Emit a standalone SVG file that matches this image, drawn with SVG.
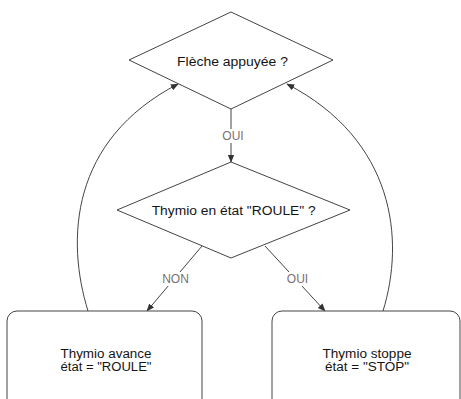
<svg xmlns="http://www.w3.org/2000/svg" width="461" height="399" viewBox="0 0 461 399">
  <style>
    .shape { fill: #ffffff; stroke: #444444; stroke-width: 1; }
    .edge { fill: none; stroke: #444444; stroke-width: 1; }
    .txt { font-family: "Liberation Sans", Arial, sans-serif; font-size: 12px; fill: #151515; text-anchor: middle; }
    .lbl { font-family: "Liberation Sans", Arial, sans-serif; font-size: 12px; fill: #7d7070; text-anchor: middle; }
    .bg { fill: #ffffff; }
  </style>
  <defs>
    <marker id="arrow" viewBox="0 0 10 10" refX="9" refY="5" markerWidth="8" markerHeight="8" markerUnits="userSpaceOnUse" orient="auto">
      <path d="M0,1 L10,5 L0,9 Z" fill="#333333"/>
    </marker>
  </defs>
  <rect width="461" height="399" fill="#ffffff"/>

  <g id="connectors">
    <line class="edge" x1="231" y1="109" x2="231" y2="162" marker-end="url(#arrow)"/>
    <rect class="bg" x="220" y="129" width="24" height="14"/>
    <text class="lbl" x="233" y="140">OUI</text>

    <line class="edge" x1="202" y1="246" x2="147" y2="311" marker-end="url(#arrow)"/>
    <rect class="bg" x="160" y="272" width="31" height="14"/>
    <text class="lbl" x="175.5" y="283">NON</text>

    <line class="edge" x1="265" y1="246" x2="325" y2="311" marker-end="url(#arrow)"/>
    <rect class="bg" x="285" y="272" width="25" height="14"/>
    <text class="lbl" x="297.5" y="283">OUI</text>

    <path class="edge" d="M88,311 C66,240 70,140 178,84" marker-end="url(#arrow)"/>
    <path class="edge" d="M383,311 C405,240 395,140 287,84" marker-end="url(#arrow)"/>
  </g>

  <g id="node-fleche">
    <polygon class="shape" points="231,12 333,60 231,109 129,60"/>
    <text class="txt" x="232.5" y="65.5" textLength="111" lengthAdjust="spacingAndGlyphs">Flèche appuyée ?</text>
  </g>

  <g id="node-etat">
    <polygon class="shape" points="231,162 350,210 231,258 117,210"/>
    <text class="txt" x="233.7" y="215" textLength="164" lengthAdjust="spacingAndGlyphs">Thymio en état "ROULE" ?</text>
  </g>

  <g id="node-avance">
    <rect class="shape" x="7" y="311" width="195" height="110" rx="10" ry="10"/>
    <text class="txt" x="106" y="358.3" textLength="91" lengthAdjust="spacingAndGlyphs">Thymio avance</text>
    <text class="txt" x="106" y="371" textLength="91" lengthAdjust="spacingAndGlyphs">état = "ROULE"</text>
  </g>

  <g id="node-stoppe">
    <rect class="shape" x="272" y="311" width="188" height="110" rx="10" ry="10"/>
    <text class="txt" x="367" y="358.3" textLength="89" lengthAdjust="spacingAndGlyphs">Thymio stoppe</text>
    <text class="txt" x="367" y="371" textLength="84" lengthAdjust="spacingAndGlyphs">état = "STOP"</text>
  </g>
</svg>
